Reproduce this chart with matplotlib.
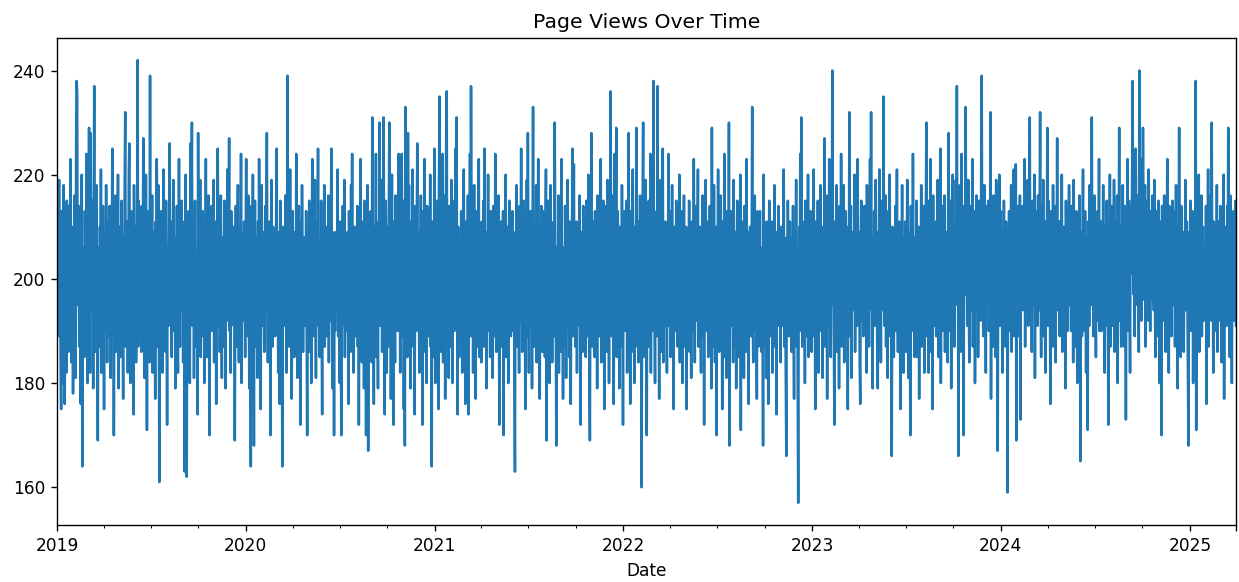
import matplotlib
matplotlib.use("Agg")
import matplotlib.pyplot as plt
import pandas as pd

start_date = "2019-01-01"
title = "Page Views Over Time"
x_label = "Date"

views = [
203, 211, 195, 189, 219, 199, 206, 185, 175, 213, 196, 180, 204, 218, 191, 176, 209, 200, 182, 215,
197, 208, 186, 214, 201, 192, 223, 205, 184, 196, 210, 178, 204, 191, 216, 199, 181, 226, 238, 236,
195, 205, 214, 187, 209, 199, 176, 203, 220, 164, 194, 206, 197, 185, 213, 201, 191, 224, 196, 180,
204, 190, 229, 197, 182, 228, 205, 194, 215, 200, 179, 209, 237, 195, 201, 186, 218, 203, 191, 169,
206, 196, 187, 210, 199, 221, 182, 204, 192, 214, 201, 175, 208, 197, 190, 218, 200, 184, 211, 195,
189, 204, 214, 197, 181, 206, 199, 225, 191, 209, 170, 201, 195, 216, 186, 205, 200, 192, 220, 179,
201, 210, 194, 185, 205, 215, 199, 191, 177, 208, 196, 219, 232, 187, 204, 197, 211, 182, 200, 221,
226, 195, 180, 204, 213, 199, 190, 206, 174, 218, 201, 194, 210, 184, 196, 205, 242, 187, 215, 197,
191, 208, 200, 186, 214, 196, 204, 227, 195, 181, 210, 199, 220, 203, 171, 206, 192, 213, 197, 184,
239, 189, 205, 197, 216, 182, 201, 209, 192, 199, 177, 211, 195, 223, 204, 187, 218, 196, 161, 206,
197, 213, 191, 205, 182, 201, 221, 194, 209, 200, 186, 215, 196, 172, 206, 199, 191, 210, 226, 192,
204, 195, 185, 211, 201, 219, 190, 197, 208, 179, 205, 199, 214, 192, 182, 203, 223, 196, 187, 209,
200, 215, 194, 206, 184, 197, 211, 163, 204, 220, 192, 162, 208, 199, 189, 213, 203, 180, 226, 195,
206, 230, 191, 199, 210, 181, 201, 215, 195, 187, 205, 197, 174, 228, 200, 209, 192, 219, 185, 203,
196, 204, 213, 189, 199, 180, 208, 201, 223, 194, 185, 205, 199, 216, 191, 170, 210, 203, 195, 214,
190, 206, 197, 219, 184, 203, 199, 211, 176, 208, 195, 225, 201, 191, 209, 186, 200, 216, 196, 181,
208, 199, 187, 204, 215, 195, 179, 210, 201, 192, 221, 199, 206, 227, 190, 200, 182, 213, 204, 194,
199, 210, 191, 205, 169, 201, 214, 196, 187, 208, 218, 197, 184, 204, 200, 194, 224, 180, 209, 195,
205, 192, 211, 199, 185, 203, 223, 195, 209, 189, 216, 200, 179, 206, 197, 164, 214, 194, 201, 220,
195, 168, 204, 215, 199, 187, 208, 201, 181, 211, 196, 223, 192, 205, 175, 200, 218, 191, 209, 197,
204, 186, 200, 214, 194, 208, 228, 197, 184, 205, 191, 211, 199, 170, 203, 219, 195, 187, 210, 200,
196, 206, 189, 200, 213, 225, 192, 204, 182, 209, 199, 176, 215, 197, 205, 190, 164, 210, 201, 194,
203, 191, 216, 199, 182, 206, 239, 196, 210, 187, 201, 221, 194, 205, 177, 199, 213, 192, 208, 185,
199, 209, 192, 224, 201, 181, 205, 196, 214, 190, 200, 172, 211, 195, 218, 204, 186, 199, 208, 191,
205, 197, 213, 191, 170, 201, 209, 194, 215, 186, 204, 199, 180, 208, 223, 196, 189, 211, 200, 219,
195, 181, 204, 211, 197, 225, 191, 201, 185, 206, 199, 215, 192, 174, 209, 201, 196, 218, 187, 204,
210, 199, 189, 203, 195, 216, 184, 206, 200, 192, 213, 225, 196, 179, 205, 199, 170, 209, 190, 201,
194, 208, 200, 221, 189, 204, 197, 180, 211, 195, 170, 205, 199, 214, 191, 203, 219, 185, 206, 196,
201, 190, 209, 197, 176, 213, 195, 204, 186, 218, 200, 224, 192, 206, 182, 199, 210, 189, 204, 196,
199, 214, 187, 205, 172, 201, 195, 223, 191, 208, 184, 200, 211, 197, 179, 215, 194, 204, 170, 209,
204, 218, 167, 199, 208, 190, 201, 213, 196, 184, 231, 194, 205, 176, 210, 199, 191, 224, 185, 206,
195, 179, 211, 201, 230, 191, 206, 197, 219, 186, 204, 196, 231, 190, 174, 208, 215, 199, 182, 210,
200, 187, 214, 230, 195, 205, 177, 199, 220, 191, 208, 172, 211, 197, 184, 216, 201, 194, 209, 190,
192, 224, 201, 211, 182, 206, 196, 224, 189, 204, 215, 175, 199, 168, 233, 209, 194, 201, 185, 228,
203, 218, 194, 206, 179, 211, 199, 191, 221, 187, 205, 197, 174, 214, 200, 190, 208, 226, 195, 204,
196, 182, 209, 201, 216, 190, 205, 172, 213, 197, 191, 223, 186, 206, 200, 180, 214, 195, 204, 189,
206, 197, 220, 187, 201, 164, 211, 194, 208, 185, 225, 199, 180, 205, 196, 215, 191, 203, 175, 218,
235, 194, 205, 186, 213, 199, 224, 184, 209, 195, 216, 177, 203, 228, 236, 191, 208, 199, 181, 214,
197, 209, 187, 219, 196, 180, 205, 201, 215, 190, 204, 225, 194, 231, 200, 174, 210, 195, 185, 208,
201, 190, 213, 199, 182, 208, 195, 221, 187, 204, 176, 211, 197, 205, 192, 216, 174, 206, 200, 224,
189, 237, 205, 196, 210, 182, 201, 218, 194, 208, 177, 213, 199, 187, 204, 195, 223, 185, 203, 209,
197, 184, 211, 201, 192, 215, 187, 225, 204, 195, 209, 179, 205, 199, 220, 190, 206, 200, 185, 213,
194, 208, 201, 181, 214, 197, 204, 189, 224, 199, 186, 209, 195, 203, 216, 191, 172, 206, 200, 211,
187, 205, 197, 213, 170, 201, 209, 192, 220, 185, 204, 199, 210, 180, 200, 215, 195, 205, 189, 208,
201, 213, 190, 206, 199, 180, 163, 209, 195, 218, 203, 187, 210, 197, 182, 214, 192, 204, 225, 196,
186, 206, 199, 215, 192, 204, 175, 210, 196, 219, 189, 228, 201, 182, 208, 197, 213, 191, 205, 179,
208, 233, 196, 187, 211, 201, 194, 218, 184, 205, 199, 223, 190, 204, 177, 209, 195, 214, 200, 186,
204, 194, 213, 199, 185, 208, 221, 169, 203, 196, 215, 189, 206, 180, 200, 218, 192, 204, 184, 210,
197, 211, 189, 230, 203, 195, 168, 206, 200, 191, 216, 182, 205, 199, 210, 186, 223, 196, 201, 177,
206, 197, 187, 214, 200, 181, 205, 196, 219, 191, 203, 185, 211, 199, 176, 208, 195, 225, 189, 204,
222, 195, 204, 187, 200, 211, 182, 206, 197, 201, 191, 216, 199, 172, 209, 194, 204, 186, 214, 197,
191, 206, 200, 185, 215, 196, 203, 189, 220, 199, 181, 169, 205, 195, 228, 200, 187, 211, 197, 204,
185, 213, 199, 192, 208, 179, 216, 196, 203, 189, 206, 199, 223, 184, 210, 196, 191, 215, 201, 175,
205, 195, 214, 199, 186, 219, 197, 204, 180, 210, 196, 236, 203, 189, 216, 192, 206, 176, 200, 224,
196, 208, 229, 185, 201, 213, 191, 199, 179, 210, 195, 204, 187, 218, 200, 172, 209, 194, 213, 190,
203, 196, 215, 182, 206, 200, 228, 191, 208, 176, 213, 197, 186, 205, 221, 195, 201, 180, 210, 199,
187, 229, 203, 196, 211, 184, 206, 199, 216, 191, 204, 160, 197, 214, 230, 185, 205, 194, 200, 219,
192, 170, 209, 197, 187, 215, 201, 195, 224, 182, 205, 199, 211, 190, 238, 203, 195, 180, 208, 200,
213, 189, 237, 196, 204, 177, 209, 199, 219, 186, 201, 194, 225, 184, 206, 200, 191, 211, 196, 204,
182, 208, 199, 224, 191, 203, 213, 185, 200, 195, 218, 189, 205, 175, 210, 197, 201, 190, 215, 195,
201, 187, 209, 197, 220, 184, 204, 199, 192, 213, 180, 206, 199, 216, 187, 203, 195, 210, 175, 200,
208, 194, 200, 215, 186, 204, 197, 181, 211, 195, 205, 190, 223, 199, 184, 206, 200, 214, 192, 203,
221, 187, 205, 199, 210, 192, 182, 208, 200, 216, 189, 204, 172, 206, 196, 219, 190, 201, 197, 211,
185, 206, 199, 214, 192, 203, 179, 229, 197, 208, 187, 218, 200, 184, 210, 195, 170, 205, 199, 221,
195, 186, 209, 201, 216, 190, 204, 175, 211, 197, 191, 224, 185, 205, 199, 181, 213, 196, 204, 189,
230, 168, 206, 196, 213, 191, 201, 205, 184, 219, 197, 204, 187, 209, 179, 200, 215, 194, 199, 185,
206, 200, 220, 171, 204, 195, 211, 189, 203, 181, 214, 197, 205, 186, 223, 199, 192, 209, 176, 204,
197, 210, 189, 201, 206, 233, 194, 184, 209, 199, 216, 190, 204, 196, 177, 213, 201, 187, 208, 197,
213, 192, 203, 186, 206, 199, 168, 220, 195, 209, 187, 201, 181, 211, 197, 204, 176, 200, 215, 192,
203, 189, 197, 211, 182, 206, 200, 194, 218, 187, 204, 199, 174, 209, 195, 203, 214, 191, 200, 206,
184, 210, 199, 191, 205, 200, 221, 187, 204, 196, 180, 166, 208, 194, 215, 200, 189, 204, 211, 195,
200, 186, 208, 196, 214, 192, 177, 209, 201, 195, 219, 187, 205, 182, 157, 199, 210, 194, 224, 190,
231, 203, 187, 211, 197, 194, 206, 180, 215, 200, 189, 205, 196, 220, 185, 208, 201, 192, 213, 197,
186, 209, 199, 194, 221, 189, 203, 175, 211, 197, 205, 191, 215, 182, 200, 208, 194, 218, 190, 204,
199, 181, 210, 201, 192, 227, 187, 205, 195, 216, 177, 209, 200, 191, 223, 197, 204, 185, 213, 195,
240, 200, 206, 190, 172, 211, 196, 204, 218, 186, 201, 194, 209, 179, 214, 197, 191, 224, 187, 205,
201, 195, 218, 184, 208, 197, 213, 190, 200, 205, 175, 210, 196, 232, 189, 204, 214, 181, 199, 209,
194, 206, 200, 220, 186, 204, 197, 211, 191, 223, 195, 201, 209, 184, 176, 205, 215, 192, 199, 210,
189, 204, 214, 197, 191, 209, 182, 218, 200, 195, 211, 187, 205, 223, 199, 232, 194, 203, 179, 208,
197, 213, 191, 205, 219, 195, 201, 186, 179, 209, 199, 221, 192, 206, 184, 215, 200, 204, 194, 235,
205, 191, 200, 216, 187, 209, 197, 181, 213, 201, 194, 220, 189, 204, 199, 166, 210, 195, 203, 185,
209, 197, 214, 190, 201, 221, 194, 186, 206, 199, 211, 189, 175, 204, 197, 218, 192, 208, 182, 201,
196, 211, 186, 205, 200, 219, 195, 181, 209, 201, 191, 170, 214, 197, 206, 190, 224, 196, 204, 185,
208, 200, 191, 215, 185, 205, 197, 210, 177, 206, 195, 201, 218, 187, 211, 199, 192, 214, 182, 204,
197, 213, 230, 189, 206, 199, 182, 215, 195, 204, 223, 186, 201, 209, 175, 216, 194, 205, 191, 200,
211, 189, 205, 196, 219, 185, 208, 200, 192, 225, 180, 206, 197, 214, 190, 203, 199, 216, 186, 205,
195, 209, 200, 184, 211, 228, 197, 205, 190, 215, 179, 208, 199, 220, 194, 203, 187, 210, 197, 219,
205, 237, 195, 213, 166, 209, 200, 218, 186, 204, 224, 196, 208, 190, 170, 214, 200, 206, 233, 197,
209, 191, 204, 219, 199, 184, 206, 200, 214, 194, 203, 223, 187, 208, 199, 213, 180, 205, 201, 216,
196, 208, 185, 203, 215, 199, 206, 192, 221, 239, 201, 211, 189, 205, 218, 197, 209, 182, 214, 203,
206, 196, 215, 190, 205, 200, 232, 177, 211, 197, 204, 187, 216, 201, 194, 209, 185, 219, 199, 205,
167, 210, 199, 220, 191, 204, 213, 196, 201, 182, 209, 197, 215, 192, 205, 187, 211, 200, 206, 159,
204, 197, 213, 190, 208, 200, 218, 186, 210, 195, 203, 221, 189, 206, 199, 222, 169, 209, 196, 214,
200, 189, 206, 216, 173, 210, 197, 204, 214, 194, 208, 200, 223, 187, 205, 213, 195, 201, 219, 191,
205, 199, 231, 192, 210, 201, 186, 215, 200, 209, 195, 220, 181, 206, 213, 197, 204, 191, 216, 201,
194, 209, 232, 199, 185, 214, 204, 196, 219, 189, 208, 200, 182, 211, 197, 205, 229, 191, 215, 201,
209, 195, 176, 213, 200, 205, 187, 218, 197, 204, 191, 214, 184, 209, 201, 227, 194, 206, 199, 211,
189, 211, 203, 196, 220, 186, 206, 200, 210, 194, 204, 179, 215, 199, 205, 190, 213, 201, 218, 195,
205, 199, 190, 214, 200, 206, 184, 219, 195, 203, 209, 187, 213, 197, 180, 208, 201, 192, 216, 204,
165, 209, 200, 189, 205, 221, 195, 204, 190, 213, 200, 182, 208, 197, 171, 211, 203, 191, 218, 199,
206, 195, 231, 200, 211, 189, 204, 216, 197, 201, 185, 209, 199, 213, 192, 205, 223, 190, 201, 196,
211, 190, 205, 199, 218, 195, 208, 182, 210, 197, 204, 215, 191, 201, 172, 209, 196, 220, 187, 205,
200, 214, 191, 208, 197, 219, 186, 204, 211, 199, 194, 216, 180, 206, 201, 229, 192, 210, 199, 187,
209, 200, 218, 191, 206, 187, 214, 203, 173, 210, 196, 223, 190, 205, 215, 199, 182, 213, 201, 206,
219, 238, 204, 197, 213, 189, 208, 225, 200, 211, 195, 216, 205, 186, 240, 209, 199, 214, 192, 223,
204, 229, 211, 196, 206, 218, 187, 209, 201, 215, 197, 192, 221, 205, 200, 190, 213, 208, 196, 216,
201, 210, 194, 219, 199, 185, 206, 213, 196, 204, 189, 215, 200, 180, 211, 197, 205, 170, 214, 200,
192, 206, 216, 199, 204, 186, 211, 200, 223, 195, 208, 182, 214, 201, 196, 209, 189, 204, 215, 195,
205, 199, 213, 187, 208, 218, 196, 203, 179, 210, 200, 229, 194, 206, 185, 214, 201, 195, 209, 199,
186, 206, 200, 219, 194, 204, 211, 197, 182, 168, 209, 201, 196, 215, 190, 205, 200, 213, 180, 203,
197, 209, 190, 238, 171, 205, 200, 214, 194, 220, 186, 206, 201, 196, 216, 189, 204, 210, 199, 192,
206, 201, 195, 214, 176, 208, 199, 221, 187, 210, 197, 204, 216, 192, 230, 199, 205, 182, 211, 200,
190, 209, 201, 196, 218, 186, 206, 211, 199, 204, 192, 214, 197, 184, 210, 200, 195, 220, 177, 204,
210, 197, 206, 191, 214, 200, 229, 195, 205, 185, 216, 199, 204, 180, 209, 197, 213, 192, 206, 201,
215, 191,
]

DPI = 122
W, H = 1239, 582

dates = pd.date_range(start_date, periods=len(views), freq="D", name=x_label)
series = pd.Series(views, index=dates, name="views")

fig = plt.figure(figsize=(W / DPI, H / DPI), dpi=DPI)
ax = fig.add_axes([57 / W, 1 - 525 / H, (1236 - 57) / W, (525 - 38) / H])
series.plot(ax=ax, color="#1f77b4", linewidth=1.5)
ax.set_title(title)
ax.set_xlabel(x_label)
fig.savefig("out.png", dpi=DPI)
